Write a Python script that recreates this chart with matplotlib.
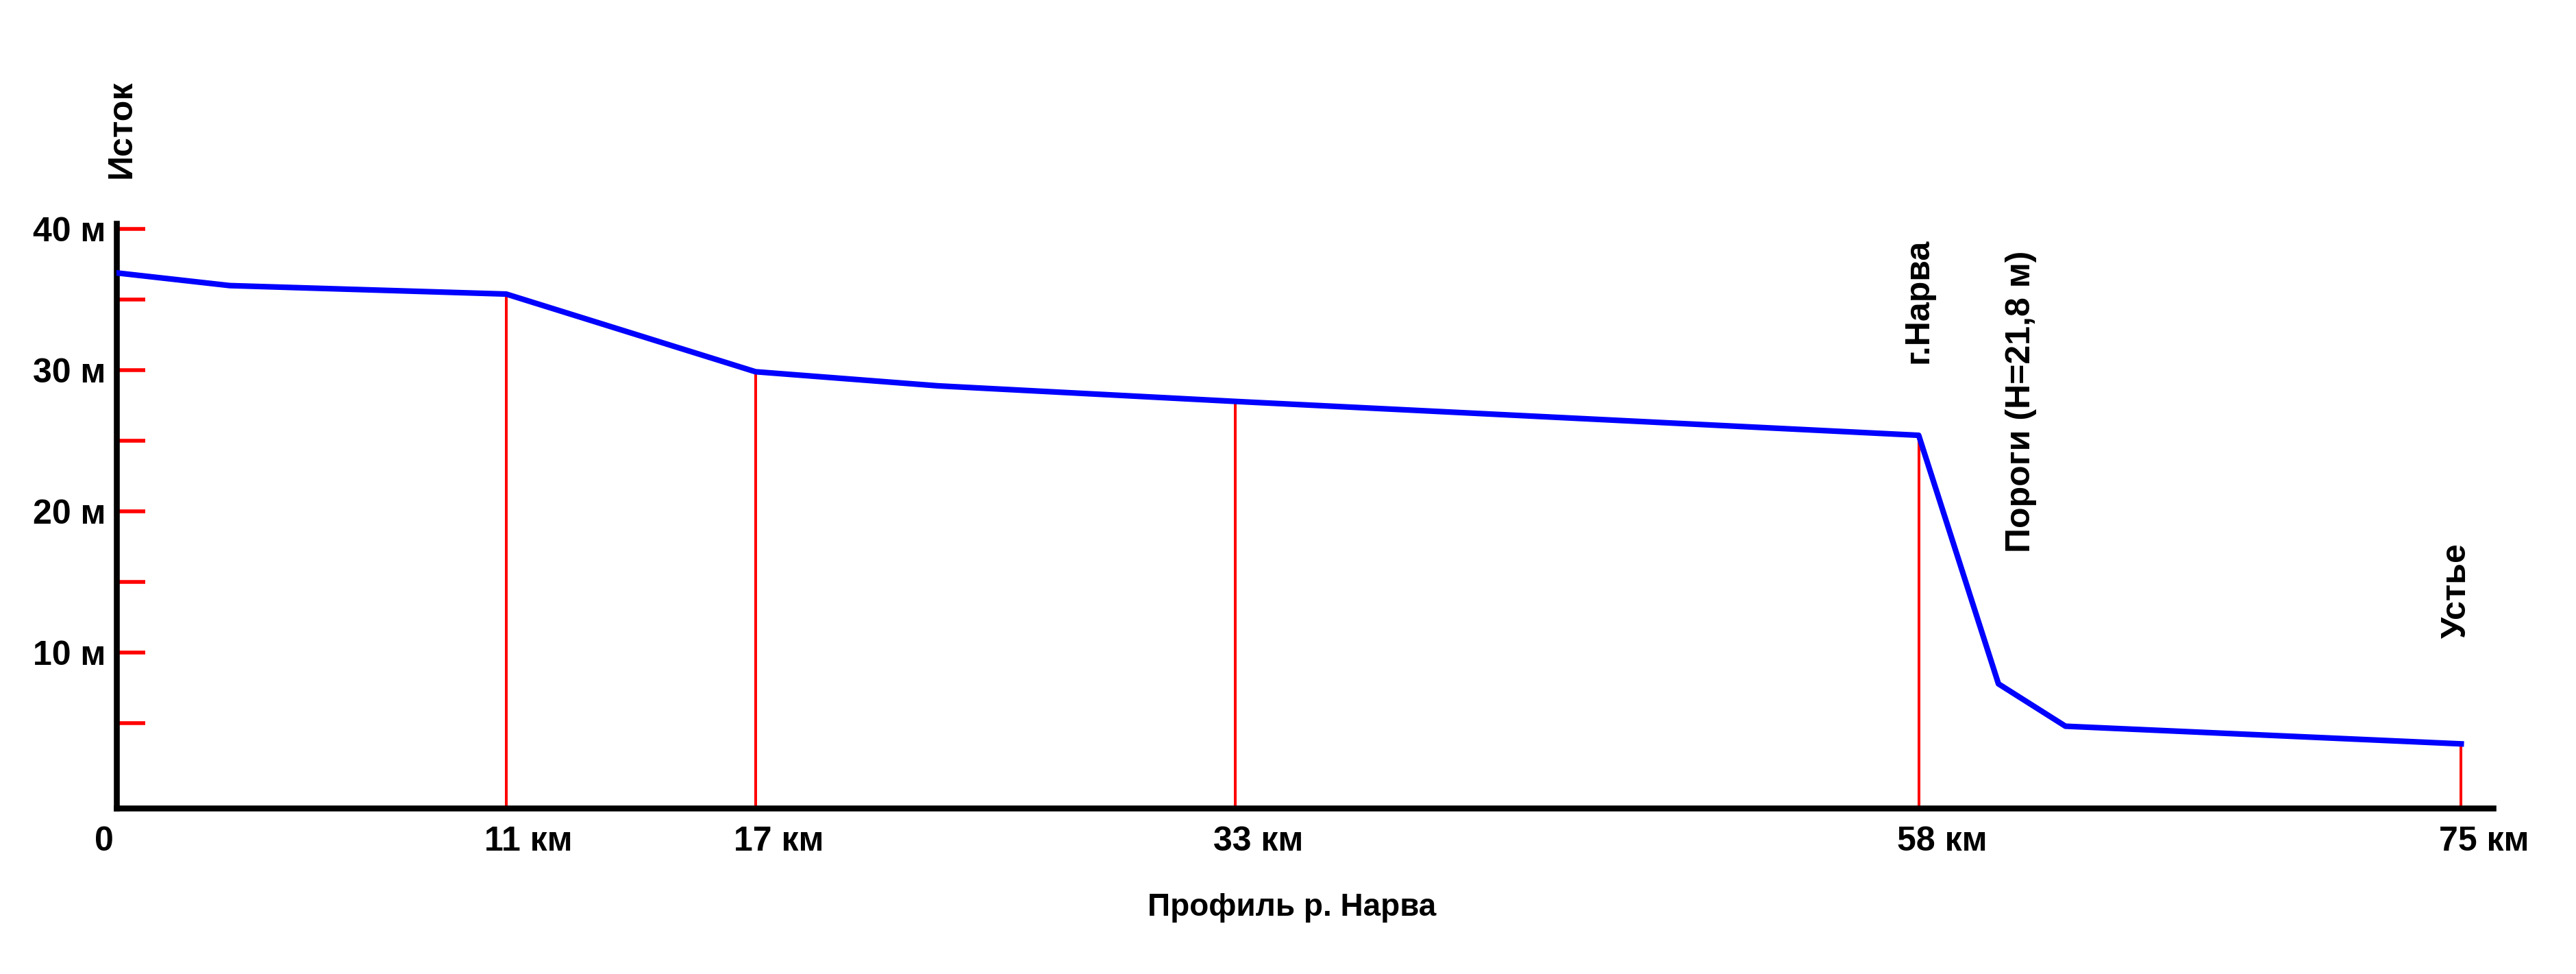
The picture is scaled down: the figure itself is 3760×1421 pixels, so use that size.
import numpy as np
import matplotlib
matplotlib.use("Agg")
import matplotlib.pyplot as plt
import matplotlib.transforms as mtransforms

# longitudinal profile of the Narva river (distance from source, km / water level, m)
profile_km = [0, 3.2, 11, 17, 23.1, 33, 58, 60.5, 62.6, 75]
profile_elev = [36.9, 36.0, 35.4, 29.9, 28.9, 27.8, 25.4, 7.8, 4.8, 3.55]

station_km = [0, 11, 17, 33, 58, 75]
station_labels = ["0", "11 км", "17 км", "33 км", "58 км", "75 км"]
marked_km = [11, 17, 33, 58, 75]

elev_ticks = [10, 20, 30, 40]
elev_labels = ["10 м", "20 м", "30 м", "40 м"]
elev_minor = [5, 15, 25, 35]

# the drawing is not to scale along the river: where each station sits on the axis
drawn_pos = [0, 569, 933, 1633, 2631, 3423]


def piecewise(x, xp, fp):
    x = np.asarray(x, dtype=float)
    y = np.interp(x, xp, fp)
    lo = (fp[1] - fp[0]) / (xp[1] - xp[0])
    hi = (fp[-1] - fp[-2]) / (xp[-1] - xp[-2])
    y = np.where(x < xp[0], fp[0] + (x - xp[0]) * lo, y)
    y = np.where(x > xp[-1], fp[-1] + (x - xp[-1]) * hi, y)
    return y


def fwd(x):
    return piecewise(x, station_km, drawn_pos)


def inv(p):
    return piecewise(p, drawn_pos, station_km)


plt.rcParams['font.family'] = ['Liberation Sans', 'DejaVu Sans']
plt.rcParams['font.weight'] = 'bold'

fig = plt.figure(figsize=(37.6, 14.21), dpi=100)
ax = fig.add_axes([0.04521, 0.1703, 0.92261, 0.60028])
ax.set_xscale('function', functions=(fwd, inv))
ax.set_xlim(0, 76)
ax.set_ylim(-1.0, 40.4)

for side in ['top', 'right']:
    ax.spines[side].set_visible(False)
for side in ['left', 'bottom']:
    ax.spines[side].set_linewidth(6.2)
    ax.spines[side].set_color('black')

tops = np.interp(marked_km, profile_km, profile_elev)
ax.vlines(marked_km, -1.0, tops, colors='#ff0000', lw=2.9, zorder=2)
ax.plot(profile_km, profile_elev, color='#0000ff', lw=5.9, zorder=3)

ax.set_yticks(elev_ticks, elev_labels, fontsize=36, fontweight='bold')
ax.set_yticks(elev_minor, minor=True)
ax.tick_params(axis='y', which='both', direction='in', length=30, width=4,
               color='#ff0000', pad=11.5)

ax.set_xticks(station_km, station_labels, fontsize=36, fontweight='bold')
ax.xaxis.set_minor_locator(plt.NullLocator())
ax.tick_params(axis='x', which='both', length=0, pad=19)

shift = mtransforms.ScaledTranslation(-32 / 100, 0, fig.dpi_scale_trans)
for lab in ax.get_xticklabels():
    lab.set_ha('left')
    lab.set_transform(lab.get_transform() + shift)

txt = dict(rotation=90, ha='center', va='center', fontsize=36, fontweight='bold')
ax.text(0.15, 47.1, "Исток", **txt)
ax.text(58, 34.9, "г.Нарва", **txt)
ax.text(61.2, 27.8, "Пороги (Н=21,8 м)", **txt)
ax.text(74.87, 14.4, "Устье", **txt)

fig.text(0.5016, 0.0683, "Профиль р. Нарва", ha='center', va='center',
         fontsize=33, fontweight='bold')

fig.savefig("out.png", dpi=100, facecolor='white')
